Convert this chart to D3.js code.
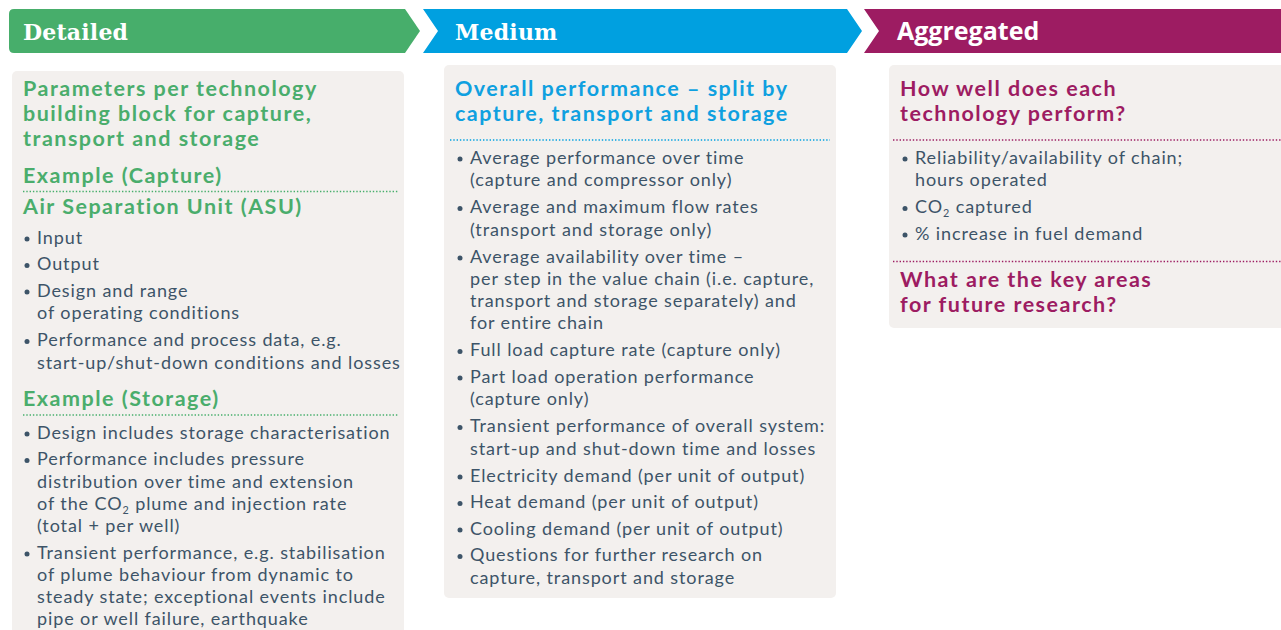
<!DOCTYPE html>
<html><head><meta charset="utf-8">
<script src="https://cdn.jsdelivr.net/npm/d3@7"></script>
<style>
html,body{margin:0;padding:0;background:#fff;}
svg{display:block;}
</style></head>
<body>
<svg id="c" width="1281" height="630"></svg>
<script>
// ---- data ----
const stages = ["Detailed", "Medium", "Aggregated"];

const detailedLines = [
  ["h", "Parameters per technology"],
  ["h", "building block for capture,"],
  ["h", "transport and storage"],
  ["s", "Example (Capture)"],
  ["r", ""],
  ["s", "Air Separation Unit (ASU)"],
  ["b", "Input"],
  ["b", "Output"],
  ["b", "Design and range"],
  ["c", "of operating conditions"],
  ["b", "Performance and process data, e.g."],
  ["c", "start-up/shut-down conditions and losses"],
  ["s", "Example (Storage)"],
  ["r", ""],
  ["b", "Design includes storage characterisation"],
  ["b", "Performance includes pressure"],
  ["c", "distribution over time and extension"],
  ["c", "of the CO{2} plume and injection rate"],
  ["c", "(total + per well)"],
  ["b", "Transient performance, e.g. stabilisation"],
  ["c", "of plume behaviour from dynamic to"],
  ["c", "steady state; exceptional events include"],
  ["c", "pipe or well failure, earthquake"]
];

const mediumLines = [
  ["h", "Overall performance \u2013 split by"],
  ["h", "capture, transport and storage"],
  ["r", ""],
  ["b", "Average performance over time"],
  ["c", "(capture and compressor only)"],
  ["b", "Average and maximum flow rates"],
  ["c", "(transport and storage only)"],
  ["b", "Average availability over time \u2013"],
  ["c", "per step in the value chain (i.e. capture,"],
  ["c", "transport and storage separately) and"],
  ["c", "for entire chain"],
  ["b", "Full load capture rate (capture only)"],
  ["b", "Part load operation performance"],
  ["c", "(capture only)"],
  ["b", "Transient performance of overall system:"],
  ["c", "start-up and shut-down time and losses"],
  ["b", "Electricity demand (per unit of output)"],
  ["b", "Heat demand (per unit of output)"],
  ["b", "Cooling demand (per unit of output)"],
  ["b", "Questions for further research on"],
  ["c", "capture, transport and storage"]
];

const aggregatedLines = [
  ["h", "How well does each"],
  ["h", "technology perform?"],
  ["r", ""],
  ["b", "Reliability/availability of chain;"],
  ["c", "hours operated"],
  ["b", "CO{2} captured"],
  ["b", "% increase in fuel demand"],
  ["r", ""],
  ["h", "What are the key areas"],
  ["h", "for future research?"]
];

// ---- layout / style ----
const W = 1281, H = 630;
const svg = d3.select("#c");
const colors = ["#47ae6b", "#00a0e0", "#9d1c62"];
const textColors = ["#4aad6c", "#0fa0e0", "#9d1c62"];
const bodyColor = "#3d5468";
const panelFill = "#f3f0ee";
const bodyFont = "Lato, 'Open Sans', sans-serif";

const colX = d3.scaleOrdinal().domain(stages).range([9, 423, 864]);

// header chevrons
const hy0 = 9, hy1 = 53, hym = 31, tip = 15;
function headerPath(i) {
  const x0 = colX(stages[i]);
  const ends = [405, 847, W + 20];
  const x1 = ends[i];
  const p = d3.path();
  if (i === 0) {
    const r = 5;
    p.moveTo(x0 + r, hy0);
    p.lineTo(x1, hy0);
    p.lineTo(x1 + tip, hym);
    p.lineTo(x1, hy1);
    p.lineTo(x0 + r, hy1);
    p.quadraticCurveTo(x0, hy1, x0, hy1 - r);
    p.lineTo(x0, hy0 + r);
    p.quadraticCurveTo(x0, hy0, x0 + r, hy0);
  } else {
    p.moveTo(x0, hy0);
    p.lineTo(x1, hy0);
    p.lineTo(x1 + tip, hym);
    p.lineTo(x1, hy1);
    p.lineTo(x0, hy1);
    p.lineTo(x0 + tip, hym);
  }
  p.closePath();
  return p.toString();
}

svg.selectAll("path.hdr").data(stages).join("path")
  .attr("class", "hdr")
  .attr("d", (d, i) => headerPath(i))
  .attr("fill", (d, i) => colors[i]);

const titleX = [23, 455, 897];
svg.selectAll("text.hdr").data(stages).join("text")
  .attr("class", "hdr")
  .attr("x", (d, i) => titleX[i])
  .attr("y", 39.5)
  .attr("fill", "#fff")
  .attr("font-family", (d, i) => i < 2 ? "'DejaVu Serif', serif" : "'Open Sans', sans-serif")
  .attr("font-weight", "bold")
  .attr("font-size", (d, i) => i < 2 ? 22 : 25)
  .attr("letter-spacing", (d, i) => i < 2 ? 0.2 : 0)
  .text(d => d);

// panels
const panels = [
  { x0: 12, x1: 404, y0: 71, y1: 650 },
  { x0: 444, x1: 836, y0: 65, y1: 598 },
  { x0: 889, x1: 1300, y0: 65, y1: 328 }
];
svg.selectAll("rect.panel").data(panels).join("rect")
  .attr("class", "panel")
  .attr("x", d => d.x0).attr("y", d => d.y0)
  .attr("width", d => d.x1 - d.x0).attr("height", d => d.y1 - d.y0)
  .attr("rx", 5).attr("fill", panelFill);

// vertical spacing between line types
const gap = {
  "h>h": 25, "h>s": 37, "s>r": 16.5, "r>s": 15, "s>b": 31,
  "b>b": 26.5, "b>c": 22.5, "c>c": 22, "c>b": 27, "c>s": 36,
  "r>b": 17.5, "h>r": 27, "b>r": 28, "r>h": 18, "s>s": 25
};
function layout(lines) {
  let y = 88, prev = null;
  return lines.map(([t, txt]) => {
    if (prev) y += gap[prev + ">" + t];
    prev = t;
    return { t, txt, y };
  });
}

const cols = [
  { lines: detailedLines, hx: 23, bx: 27, tx: 37, rx0: 23, rx1: 398 },
  { lines: mediumLines, hx: 455, bx: 460, tx: 470, rx0: 450, rx1: 830 },
  { lines: aggregatedLines, hx: 900, bx: 905, tx: 915, rx0: 893, rx1: 1281 }
];

const BODY = 18;
function addRich(sel, txt, size) {
  const parts = txt.split(/(\{[^}]*\})/);
  let pendingDy = 0;
  parts.forEach(p => {
    if (!p) return;
    if (p[0] === "{") {
      sel.append("tspan").attr("font-size", size * 0.6).attr("dy", size * 0.2).text(p.slice(1, -1));
      pendingDy = -size * 0.2;
    } else {
      const t = sel.append("tspan").text(p);
      if (pendingDy) { t.attr("dy", pendingDy); pendingDy = 0; }
    }
  });
}

cols.forEach((col, ci) => {
  const g = svg.append("g");
  const items = layout(col.lines);
  g.selectAll("line").data(items.filter(d => d.t === "r")).join("line")
    .attr("x1", col.rx0).attr("x2", col.rx1)
    .attr("y1", d => d.y).attr("y2", d => d.y)
    .attr("stroke", colors[ci]).attr("stroke-width", 1.6)
    .attr("stroke-dasharray", "1.4 1.9");
  g.selectAll("text.h").data(items.filter(d => d.t === "h" || d.t === "s")).join("text")
    .attr("class", "h")
    .attr("x", col.hx).attr("y", d => d.y).attr("dy", "0.36em")
    .attr("fill", textColors[ci])
    .attr("font-family", bodyFont).attr("font-weight", "bold")
    .attr("font-size", 21.5)
    .attr("letter-spacing", 1.5)
    .text(d => d.txt);
  g.selectAll("circle").data(items.filter(d => d.t === "b")).join("circle")
    .attr("cx", col.bx).attr("cy", d => d.y + 1.5).attr("r", 2.5)
    .attr("fill", bodyColor);
  g.selectAll("text.b").data(items.filter(d => d.t === "b" || d.t === "c")).join("text")
    .attr("class", "b")
    .attr("x", col.tx).attr("y", d => d.y).attr("dy", "0.36em")
    .attr("fill", bodyColor)
    .attr("font-family", bodyFont)
    .attr("font-size", BODY)
    .attr("letter-spacing", 0.9)
    .each(function (d) { addRich(d3.select(this), d.txt, BODY); });
});
</script>
</body></html>
